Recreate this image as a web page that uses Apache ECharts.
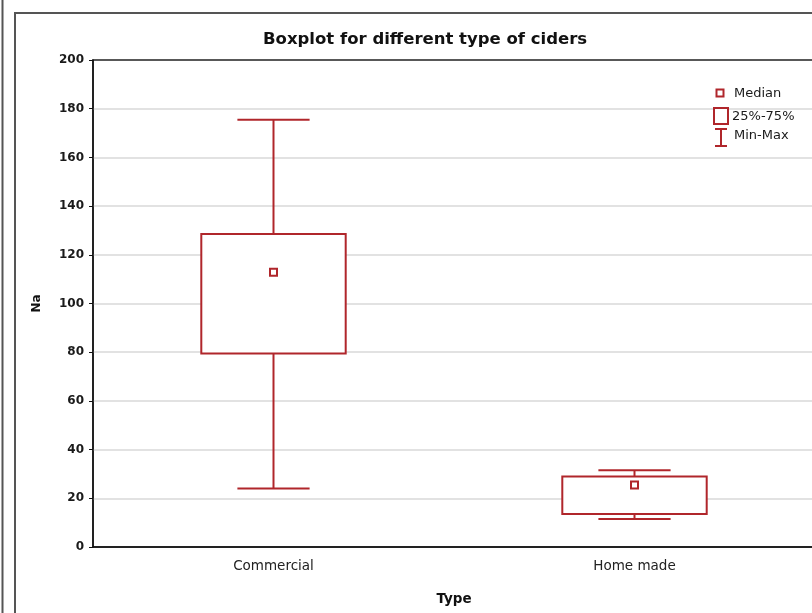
<!DOCTYPE html>
<html>
<head>
<meta charset="utf-8">
<title>Boxplot for different type of ciders</title>
<script src="https://cdn.jsdelivr.net/npm/echarts@6.0.0/dist/echarts.min.js"></script>
<style>
    html, body { margin: 0; padding: 0; background: #fff; }
    #boxChart { width: 812px; height: 613px; }
</style>
</head>
<body>
<div id="boxChart"></div>
<script>
// 类别与数值
var categories = ['Commercial', 'Home made'];
var minVals    = [24, 11.5];
var q1Vals     = [79.5, 13.6];
var medianVals = [112.8, 25.5];
var q3Vals     = [128.5, 29];
var maxVals    = [175.5, 31.5];
var yTicks     = [0, 200, 20];   // min, max, interval

var boxColor = '#b0262b';

// 组装 custom series 数据: [类别下标, min, q1, median, q3, max]
var boxData = [];
for (var i = 0; i < categories.length; i++) {
    boxData.push([i, minVals[i], q1Vals[i], medianVals[i], q3Vals[i], maxVals[i]]);
}

/**
 * 画箱线图：箱体、须线、端线、中位数小方块
 */
function renderBox(params, api) {
    var idx = api.value(0);
    var x = api.coord([idx, 0])[0];
    var band = api.size([1, 0])[0];
    var halfBox = band * 0.2;
    var halfCap = band * 0.1;
    var yMin = api.coord([idx, api.value(1)])[1];
    var yQ1  = api.coord([idx, api.value(2)])[1];
    var yMed = api.coord([idx, api.value(3)])[1];
    var yQ3  = api.coord([idx, api.value(4)])[1];
    var yMax = api.coord([idx, api.value(5)])[1];
    var line = { stroke: boxColor, lineWidth: 2, fill: null };
    return {
        type: 'group',
        children: [
            { type: 'line', shape: { x1: x, y1: yMax, x2: x, y2: yQ3 }, style: line },
            { type: 'line', shape: { x1: x, y1: yQ1, x2: x, y2: yMin }, style: line },
            { type: 'line', shape: { x1: x - halfCap, y1: yMax, x2: x + halfCap, y2: yMax }, style: line },
            { type: 'line', shape: { x1: x - halfCap, y1: yMin, x2: x + halfCap, y2: yMin }, style: line },
            { type: 'rect', shape: { x: x - halfBox, y: yQ3, width: halfBox * 2, height: yQ1 - yQ3 },
              style: { stroke: boxColor, lineWidth: 2, fill: '#fff' } },
            { type: 'rect', shape: { x: x - 3.5, y: yMed - 3.5, width: 7, height: 7 },
              style: { stroke: boxColor, lineWidth: 2, fill: '#fff' } }
        ]
    };
}

var labelFont = 'DejaVu Sans';

var option = {
    animation: false,
    backgroundColor: '#fff',
    title: {
        text: 'Boxplot for different type of ciders',
        left: 258,
        top: 26,
        textStyle: { fontFamily: labelFont, fontSize: 16.5, fontWeight: 'bold', color: '#111' }
    },
    grid: {
        left: 93,
        top: 60,
        width: 722,
        height: 487,
        outerBoundsMode: 'none',
        containLabel: false,
        show: true,
        borderColor: '#222',
        borderWidth: 1.5,
        backgroundColor: 'transparent'
    },
    xAxis: {
        type: 'category',
        data: categories,
        name: 'Type',
        nameLocation: 'middle',
        nameGap: 45,
        nameTextStyle: { fontFamily: labelFont, fontSize: 13.5, fontWeight: 'bold', color: '#111' },
        axisLine: { lineStyle: { color: '#111', width: 1.5 } },
        axisTick: { alignWithLabel: true, inside: true, length: 3, lineStyle: { color: '#111' } },
        axisLabel: { fontFamily: labelFont, fontSize: 13.5, color: '#222', margin: 12 },
        splitLine: { show: false }
    },
    yAxis: {
        type: 'value',
        min: yTicks[0],
        max: yTicks[1],
        interval: yTicks[2],
        name: 'Na',
        nameLocation: 'middle',
        nameGap: 50,
        nameTextStyle: { fontFamily: labelFont, fontSize: 12, fontWeight: 'bold', color: '#111' },
        axisLine: { show: true, lineStyle: { color: '#111', width: 1.5 } },
        axisTick: { show: true, length: 4, lineStyle: { color: '#111' } },
        axisLabel: { fontFamily: labelFont, fontSize: 12, fontWeight: 'bold', color: '#1a1a1a', margin: 9 },
        splitLine: { show: true, showMinLine: false, showMaxLine: false, lineStyle: { color: '#d9d9d9', width: 1.5 } }
    },
    series: [{
        type: 'custom',
        name: 'Na',
        renderItem: renderBox,
        data: boxData,
        encode: { x: 0, y: [1, 2, 3, 4, 5] },
        z: 5
    }],
    graphic: [
        // 外框
        { type: 'line', shape: { x1: 2.5, y1: 0, x2: 2.5, y2: 613 }, style: { stroke: '#555', lineWidth: 2 } },
        { type: 'rect', shape: { x: 15, y: 13, width: 900, height: 700 }, style: { stroke: '#555', lineWidth: 2, fill: null } },
        // 图例
        { type: 'rect', shape: { x: 716.5, y: 89.5, width: 7, height: 7 }, style: { stroke: boxColor, lineWidth: 2, fill: '#fff' }, z: 10 },
        { type: 'text', x: 734, y: 94, style: { text: 'Median', fontFamily: labelFont, fontSize: 13, fill: '#1a1a1a', verticalAlign: 'middle' }, z: 10 },
        { type: 'rect', shape: { x: 714, y: 108, width: 14, height: 16 }, style: { stroke: boxColor, lineWidth: 2, fill: '#fff' }, z: 10 },
        { type: 'text', x: 732, y: 117, style: { text: '25%-75%', fontFamily: labelFont, fontSize: 13, fill: '#1a1a1a', verticalAlign: 'middle' }, z: 10 },
        { type: 'line', shape: { x1: 721, y1: 129, x2: 721, y2: 146 }, style: { stroke: boxColor, lineWidth: 2 }, z: 10 },
        { type: 'line', shape: { x1: 715, y1: 129, x2: 727, y2: 129 }, style: { stroke: boxColor, lineWidth: 2 }, z: 10 },
        { type: 'line', shape: { x1: 715, y1: 146, x2: 727, y2: 146 }, style: { stroke: boxColor, lineWidth: 2 }, z: 10 },
        { type: 'text', x: 734, y: 136, style: { text: 'Min-Max', fontFamily: labelFont, fontSize: 13, fill: '#1a1a1a', verticalAlign: 'middle' }, z: 10 }
    ]
};

var boxChart = echarts.init(document.getElementById('boxChart'), null, { renderer: 'canvas' });
boxChart.setOption(option, true);
</script>
</body>
</html>
